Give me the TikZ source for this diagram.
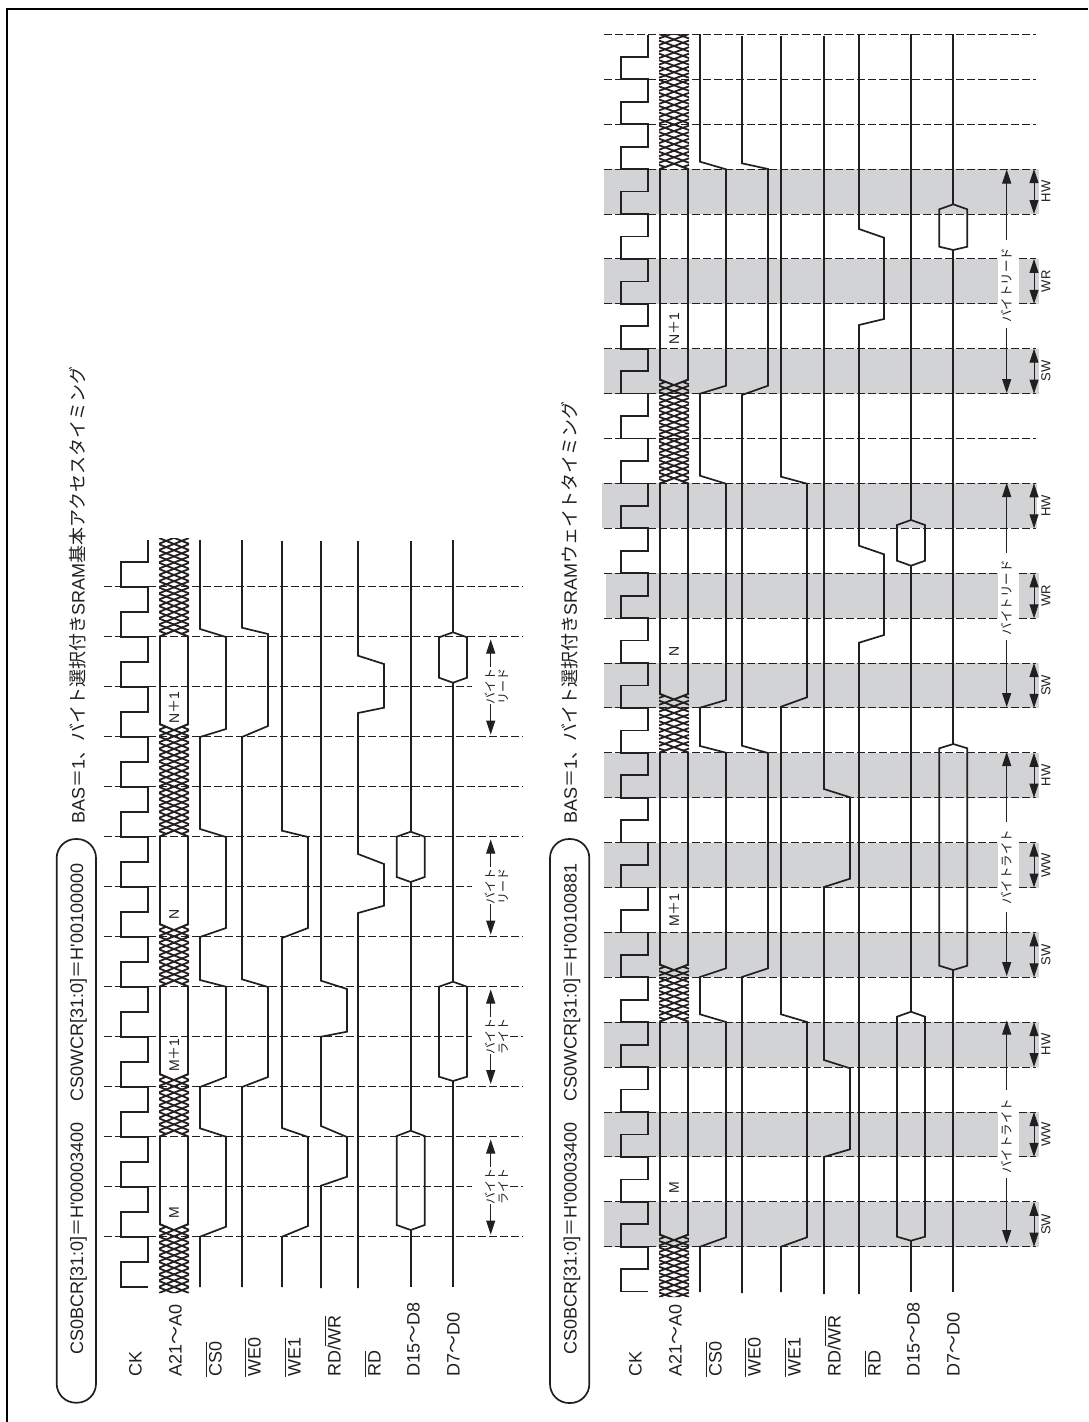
\documentclass[tikz,border=0pt]{standalone}
\usepackage{fontspec}
\usetikzlibrary{arrows.meta}
\newfontfamily\latf{Liberation Sans}
\newfontfamily\cjkf{Noto Sans CJK JP}
\definecolor{ink}{HTML}{231F20}
\definecolor{band}{HTML}{D1D3D4}
\newcommand{\jp}[1]{{\cjkf #1}}
\newcommand{\ovl}[1]{\setbox0\hbox{#1}\rlap{\rule[15pt]{\wd0}{0.8pt}}\box0}
\tikzset{
  sig/.style={draw=ink,line width=1.7pt,line join=miter},
  dsh/.style={draw=ink,line width=1pt,dash pattern=on 7.5pt off 3.5pt},
  arr/.style={draw=ink,line width=1pt},
  tip/.style={-{Triangle[length=14pt,width=9pt]}},
  tips/.style={{Triangle[length=14pt,width=9pt]}-{Triangle[length=14pt,width=9pt]}},
  rt/.style={rotate=90,inner sep=0pt,text=ink},
  big/.style={rt,anchor=west,font=\latf\fontsize{18}{20}\selectfont,text height=13pt,text depth=0pt},
  smallbyte/.style={rt,font=\cjkf\fontsize{12}{13}\selectfont,align=center},
  longbyte/.style={rt,font=\cjkf\fontsize{12.5}{14}\selectfont},
  bname/.style={rt,font=\latf\fontsize{13}{14}\selectfont},
  busname/.style={rt,font=\latf\fontsize{14}{15}\selectfont},
  pill/.style={draw=ink,line width=1.7pt,rounded corners=19pt},
}
% cx, top edge y, top centre y, bottom edge y, bottom centre y, arm
\newcommand{\hatchreg}[6]{%
  \begin{scope}
    \clip (#1-15,#2)--(#1,#3)--(#1+15,#2)--(#1+15,#4)--(#1,#5)--(#1-15,#4)--cycle;
    \pgfmathsetmacro\hspan{#4-#2-2*#6}
    \pgfmathsetmacro\hnum{int(round(\hspan/6.4))}
    \pgfmathsetmacro\hpitch{\hspan/\hnum}
    \pgfmathsetmacro\hlast{int(\hnum+4)}
    \foreach \k in {-4,...,\hlast}{
      \pgfmathsetmacro\yc{#2+#6+\k*\hpitch}
      \draw[draw=ink,line width=1.8pt] (#1-15,\yc+#6) -- (#1+15,\yc-#6);
      \draw[draw=ink,line width=1.8pt] (#1-15,\yc-#6) -- (#1+15,\yc+#6);
    }
  \end{scope}}
% cx, T, c, arm
\newcommand{\validbus}[4]{%
  \draw[sig] (#1,#3)--(#1+14,#3-#4)--(#1+14,#2)--(#1,#2-#4)--(#1-14,#2)--(#1-14,#3-#4)--cycle;}
% cx, apex top, side top, side bottom, apex bottom
\newcommand{\hexb}[5]{%
  \draw[sig] (#1,#5)--(#1+14,#4)--(#1+14,#3)--(#1,#2)--(#1-14,#3)--(#1-14,#4)--cycle;}
% band: y top, y bottom
\newcommand{\bandfull}[2]{%
  \fill[band] (604,#1) rectangle (1039,#2);}
\newcommand{\bandgap}[2]{%
  \fill[band] (604,#1) rectangle (998,#2);
  \fill[band] (1019,#1) rectangle (1039,#2);}
\begin{document}
\begin{tikzpicture}[x=1pt,y=-1pt]
\useasboundingbox (0,0) rectangle (1088,1422);
\fill[white] (0,0) rectangle (1088,1422);
\draw[draw=black,line width=2pt] (7,1422) -- (7,9.3) -- (1088,9.3);

%%%%%%%%%% first timing chart
\draw[pill] (56.7,839) rectangle (96,1402.7);
\node[big,anchor=west] (regA) at (76.7,1355) {CS0BCR[31:0]\jp{＝}H'00003400\hspace{21pt}CS0WCR[31:0]\jp{＝}H'00100000};
\node[big,anchor=west] (titleA) at (78,824) {BAS\jp{＝}1\jp{、バイト選択付き}SRAM\jp{基本アクセスタイミング}};

\node[big] (lCKa) at (135,1377) {CK};
\node[big] (lAa) at (175,1377) {A21\jp{～}A0};
\node[big] (lCSa) at (215,1377) {\ovl{CS0}};
\node[big] (lWE0a) at (254,1377) {\ovl{WE0}};
\node[big] (lWE1a) at (294,1377) {\ovl{WE1}};
\node[big] (lRWa) at (334,1377) {RD/\ovl{WR}};
\node[big] (lRDa) at (374,1377) {\ovl{RD}};
\node[big] (lD15a) at (413,1377) {D15\jp{～}D8};
\node[big] (lD7a) at (453,1377) {D7\jp{～}D0};

\foreach \y in {1236.7,1136.7,1086.7,986.7,936.7,836.7,786.7,736.7,636.7,586.7}
  \draw[dsh] (104,\y) -- (523,\y);
\foreach \y in {1186.7,1036.7}{
  \draw[dsh] (104,\y) -- (472,\y);
  \draw[dsh] (510,\y) -- (523,\y);}
\foreach \y in {886.7,686.7}
  \draw[dsh] (104,\y) -- (472,\y);

% CK
\draw[sig] (148,1286.7) -- (121,1286.7)
  foreach \k in {-1,1,...,25} { -- (121,{1236.7-25*\k}) -- (148,{1236.7-25*\k}) -- (148,{1236.7-25*(\k+1)}) -- (121,{1236.7-25*(\k+1)}) }
  -- (121,561.7) -- (148,561.7) -- (148,540);

% bus
\hatchreg{174}{1224}{1230}{1293}{1293}{6}
\hatchreg{174}{1074}{1080}{1136.7}{1130.7}{6}
\hatchreg{174}{924}{930}{986.7}{980.7}{6}
\hatchreg{174}{724}{730}{836.7}{830.7}{6}
\hatchreg{174}{538}{538}{636.7}{630.7}{6}
\validbus{174}{1136.7}{1230}{6}
\validbus{174}{986.7}{1080}{6}
\validbus{174}{836.7}{930}{6}
\validbus{174}{636.7}{730}{6}
\node[busname] (mA) at (174,1213) {M};
\node[busname] (m1A) at (174,1055) {M\jp{＋}1};
\node[busname] (nA) at (174,914) {N};
\node[busname] (n1A) at (174,708) {N\jp{＋}1};

% CS0
\draw[sig] (200,1287) -- (200,1236.7) -- (226,1226.7) -- (226,1136.7) -- (200,1128.3) -- (200,1087) -- (226,1077) -- (226,986.7) -- (200,980) -- (200,937) -- (226,928) -- (226,837) -- (200,829) -- (200,737) -- (226,729) -- (226,637) -- (200,629) -- (200,540);
% WE0
\draw[sig] (242,1287) -- (242,1087) -- (268,1077) -- (268,987) -- (242,979.3) -- (242,737) -- (268,726) -- (268,634) -- (242,627.7) -- (242,540);
% WE1
\draw[sig] (282,1287) -- (282,1236.7) -- (308,1226) -- (308,1137) -- (282,1128) -- (282,938) -- (308,928) -- (308,837) -- (282,830.7) -- (282,541);
% RD/WR
\draw[sig] (321,1288) -- (321,1185.7) -- (347,1176.7) -- (347,1137) -- (321,1126) -- (321,1036.7) -- (347,1031.7) -- (347,989) -- (321,980.7) -- (321,541);
% RD
\draw[sig] (358,1288) -- (358,913) -- (384,905.7) -- (384,864) -- (358,854) -- (358,713) -- (384,707.7) -- (384,664) -- (358,655.7) -- (358,541);
% D15-D8
\draw[sig] (410.7,1287) -- (410.7,1230);
\hexb{410.7}{1130.7}{1136}{1225}{1230}
\draw[sig] (410.7,1130.7) -- (410.7,882);
\hexb{410.7}{831.7}{836.7}{877}{882}
\draw[sig] (410.7,831.7) -- (410.7,541);
% D7-D0
\draw[sig] (453,1287) -- (453,1081);
\hexb{453}{981.7}{986.7}{1076.7}{1081}
\draw[sig] (453,981.7) -- (453,682.7);
\hexb{453}{632.3}{637.3}{677.7}{682.7}
\draw[sig] (453,632.3) -- (453,540);

% byte arrows
\node[smallbyte] (bw1) at (496.5,1186.7) {バイト\\ライト};
\draw[arr,tip] (490.7,1204) -- (490.7,1234.5);
\draw[arr,tip] (490.7,1167) -- (490.7,1139.5);
\node[smallbyte] (bw2) at (496.5,1036.7) {バイト\\ライト};
\draw[arr,tip] (490.7,1054) -- (490.7,1084);
\draw[arr,tip] (490.7,1017) -- (490.7,989.5);
\node[smallbyte] (br1) at (496.5,886.7) {バイト\\リード};
\draw[arr,tip] (490.7,904) -- (490.7,934.5);
\draw[arr,tip] (490.7,867) -- (490.7,839.5);
\node[smallbyte] (br2) at (496.5,686.7) {バイト\\リード};
\draw[arr,tip] (490.7,704) -- (490.7,734.5);
\draw[arr,tip] (490.7,667) -- (490.7,639.5);

%%%%%%%%%% second timing chart
\bandfull{1201.8}{1246.7}
\bandgap{1112}{1156.9}
\bandfull{1022}{1067}
\bandfull{932.4}{977.3}
\bandgap{842.6}{887.5}
\bandfull{752.8}{797.7}
\bandfull{663}{707.9}
\fill[band] (606,573.4) rectangle (998,618.3);
\fill[band] (1019,573.4) rectangle (1039,618.3);
\fill[band] (602,483.4) rectangle (1037,528.3);
\bandfull{348.7}{393.6}
\bandgap{258.9}{303.8}
\bandfull{169.1}{214}

\foreach \k in {0,1,4,5,6,7,10,11,12,13,16,17,18,19,20,23,24,25,26,27}{
  \pgfmathsetmacro\yy{1246.7-44.9*\k}
  \draw[dsh] (604,\yy) -- (1036,\yy);}
\foreach \k in {2,3,8,9,14,15,21,22}{
  \pgfmathsetmacro\yy{1246.7-44.9*\k}
  \draw[dsh] (604,\yy) -- (998,\yy);
  \draw[dsh] (1019,\yy) -- (1036,\yy);}

\draw[pill] (550,839) rectangle (589.3,1403);
\node[big] (regB) at (570,1355) {CS0BCR[31:0]\jp{＝}H'00003400\hspace{21pt}CS0WCR[31:0]\jp{＝}H'00100881};
\node[big] (titleB) at (570.3,824) {BAS\jp{＝}1\jp{、バイト選択付き}SRAM\jp{ウェイトタイミング}};

\node[big] (lCKb) at (635,1377) {CK};
\node[big] (lAb) at (675,1377) {A21\jp{～}A0};
\node[big] (lCSb) at (715,1377) {\ovl{CS0}};
\node[big] (lWE0b) at (754,1377) {\ovl{WE0}};
\node[big] (lWE1b) at (794,1377) {\ovl{WE1}};
\node[big] (lRWb) at (834,1377) {RD/\ovl{WR}};
\node[big] (lRDb) at (874,1377) {\ovl{RD}};
\node[big] (lD15b) at (913,1377) {D15\jp{～}D8};
\node[big] (lD7b) at (953,1377) {D7\jp{～}D0};

% CK
\draw[sig] (648,1291.6) -- (621,1291.6)
  foreach \k in {-1,1,...,51} { -- (621,{1246.7-22.45*\k}) -- (648,{1246.7-22.45*\k}) -- (648,{1246.7-22.45*(\k+1)}) -- (621,{1246.7-22.45*(\k+1)}) }
  -- (621,56.85) -- (648,56.85) -- (648,35);

% bus
\hatchreg{674}{1234.5}{1240}{1297}{1297}{5.5}
\hatchreg{674}{964.5}{970}{1021.7}{1016.2}{5.5}
\hatchreg{674}{693.8}{699.3}{752.7}{747.2}{5.5}
\hatchreg{674}{379.5}{385}{483.7}{478.2}{5.5}
\hatchreg{674}{34}{34}{169.3}{163.8}{5.5}
\validbus{674}{1021.7}{1240}{5.5}
\validbus{674}{752.7}{970}{5.5}
\validbus{674}{483.7}{699.3}{5.5}
\validbus{674}{169.3}{385}{5.5}
\node[busname] (mB) at (674,1188) {M};
\node[busname] (m1B) at (674,910) {M\jp{＋}1};
\node[busname] (nB) at (674,651) {N};
\node[busname] (n1B) at (674,329) {N\jp{＋}1};

% CS0
\draw[sig] (700,1292) -- (700,1246.7) -- (726,1237.3) -- (726,1022) -- (700,1014.3) -- (700,977) -- (726,968.3) -- (726,752.7) -- (700,746) -- (700,707.7) -- (726,700) -- (726,483.7) -- (700,475.7) -- (700,393.7) -- (726,385.7) -- (726,169.3) -- (700,161.7) -- (700,34);
% WE0
\draw[sig] (742,1293) -- (742,977) -- (768,968.3) -- (768,753) -- (742,745.7) -- (742,395) -- (768,385.7) -- (768,169) -- (742,163.3) -- (742,36);
% WE1
\draw[sig] (781,1292) -- (781,1246.7) -- (807,1237.3) -- (807,1022) -- (781,1014.3) -- (781,706.7) -- (807,697.3) -- (807,483.7) -- (781,476.7) -- (781,36);
% RD/WR
\draw[sig] (824,1294) -- (824,1156.9) -- (850,1149.3) -- (850,1068.3) -- (824,1060) -- (824,887) -- (850,878.7) -- (850,797.3) -- (824,789) -- (824,36);
% RD
\draw[sig] (859,1294) -- (859,642.7) -- (884,635) -- (884,554.3) -- (859,545.7) -- (859,325) -- (884,319) -- (884,237.7) -- (859,229) -- (859,35);
% D15-D8
\draw[sig] (911,1292) -- (911,1240.7);
\hexb{911}{1011.7}{1016.7}{1236.7}{1240.7}
\draw[sig] (911,1011.7) -- (911,565.7);
\hexb{911}{520}{525}{560.7}{565.7}
\draw[sig] (911,520) -- (911,34);
% D7-D0
\draw[sig] (953.3,1292) -- (953.3,970);
\hexb{953.3}{744}{748.3}{965.7}{970}
\draw[sig] (953.3,744) -- (953.3,250);
\hexb{953.3}{204.3}{209.3}{246.7}{250}
\draw[sig] (953.3,204.3) -- (953.3,34);

% long byte arrows
\node[longbyte] (l1) at (1006.7,1136) {バイトライト};
\draw[arr,tip] (1006.7,1178) -- (1006.7,1244);
\draw[arr,tip] (1006.7,1090) -- (1006.7,1020.5);
\node[longbyte] (l2) at (1006.7,867) {バイトライト};
\draw[arr,tip] (1006.7,911.7) -- (1006.7,976);
\draw[arr,tip] (1006.7,822) -- (1006.7,752);
\node[longbyte] (l3) at (1006.7,597.5) {バイトリード};
\draw[arr,tip] (1006.7,640) -- (1006.7,707);
\draw[arr,tip] (1006.7,553) -- (1006.7,483);
\node[longbyte] (l4) at (1006.7,285) {バイトリード};
\draw[arr,tip] (1006.7,328) -- (1006.7,393);
\draw[arr,tip] (1006.7,240) -- (1006.7,169.5);

% band arrows and names
\foreach \ya/\yb/\nm [count=\bi] in {1201.8/1246.7/SW,1112/1156.9/WW,1022/1067/HW,932.4/977.3/SW,842.6/887.5/WW,752.8/797.7/HW,663/707.9/SW,573.4/618.3/WR,483.4/528.3/HW,348.7/393.6/SW,258.9/303.8/WR,169.1/214/HW}{
  \draw[arr,tips] (1034,\ya) -- (1034,\yb);
  \pgfmathsetmacro\ym{(\ya+\yb)/2}
  \node[bname] (bn\bi) at (1046,\ym) {\nm};
}
\end{tikzpicture}
\end{document}
